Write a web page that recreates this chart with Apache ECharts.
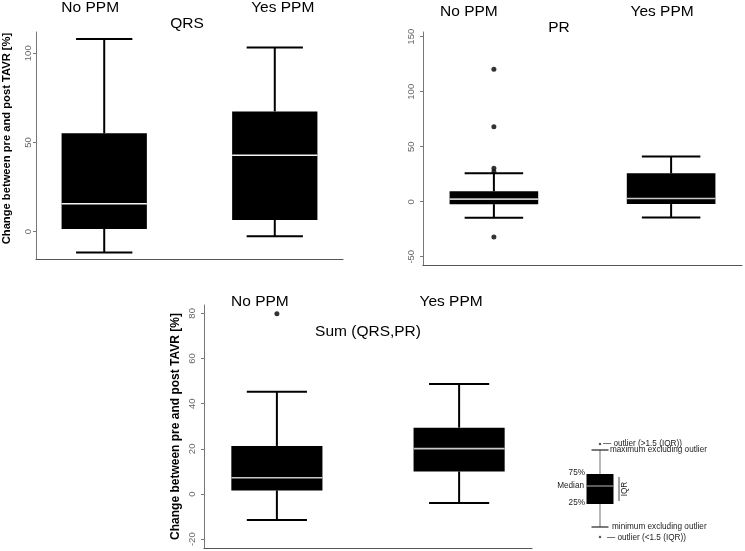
<!DOCTYPE html>
<html>
<head>
<meta charset="utf-8">
<script src="https://cdn.jsdelivr.net/npm/echarts@6/dist/echarts.min.js"></script>
<style>
html,body{margin:0;padding:0;background:#fff;}
#chart{width:745px;height:551px;}
</style>
</head>
<body>
<div id="chart"></div>
<script>
// ---- data ----
const groups = ['No PPM', 'Yes PPM'];
const groupPos = [1, 2];
// [min, Q1, median, Q3, max] (whiskers exclude outliers)
const qrsNo  = [-11.7, 1.5, 15.7, 55.1, 108.0];
const qrsYes = [-2.5, 6.6, 42.8, 67.4, 103.2];
const prNo   = [-14.5, -2.2, 2.4, 9.5, 25.8];
const prYes  = [-14.4, -2.1, 3.0, 25.8, 41.1];
const prNoOutliers = [120.4, 68.2, 30.4, 27.3, -32.1];
const sumNo  = [-11.5, 1.6, 7.2, 21.3, 45.3];
const sumYes = [-4.0, 10.0, 20.1, 29.4, 48.7];
const sumNoOutliers = [79.8];
const qrsTicks = [0, 50, 100];
const prTicks  = [-50, 0, 50, 100, 150];
const sumTicks = [-20, 0, 20, 40, 60, 80];
const panelTitles = ['QRS', 'PR', 'Sum (QRS,PR)'];
const yName = 'Change between pre and post TAVR [%]';
// key (explanatory box)
const keyStats = [13, 36, 54, 66, 90];
const keyOutliers = [96, 3];
const keyTexts = ['— outlier (>1.5 (IQR))', 'maximum excluding outlier', '75%', 'Median', '25%', 'IQR', 'minimum excluding outlier', '— outlier (<1.5 (IQR))'];

const FONT = 'Liberation Sans, Arial, sans-serif';
const chart = echarts.init(document.getElementById('chart'));

function boxRenderer(boxW, capW, c) {
  return function (params, api) {
    const x = api.value(0);
    const v = [1, 2, 3, 4, 5].map(i => api.value(i));
    const p = v.map(y => api.coord([x, y]));
    const cx = p[0][0];
    const bl = api.coord([x - boxW / 2, v[3]]);
    const br = api.coord([x + boxW / 2, v[1]]);
    const cl = api.coord([x - capW / 2, v[0]])[0];
    const cr = api.coord([x + capW / 2, v[0]])[0];
    const ln = (x1, y1, x2, y2, stroke, w) => ({type: 'line', shape: {x1, y1, x2, y2}, style: {stroke, lineWidth: w}});
    return {type: 'group', children: [
      ln(cx, p[0][1], cx, p[1][1], c.whisker, c.lw),
      ln(cx, p[3][1], cx, p[4][1], c.whisker, c.lw),
      ln(cl, p[0][1], cr, p[0][1], c.cap, c.lw),
      ln(cl, p[4][1], cr, p[4][1], c.cap, c.lw),
      {type: 'rect', shape: {x: bl[0], y: bl[1], width: br[0] - bl[0], height: br[1] - bl[1]}, style: {fill: c.box}},
      ln(bl[0], p[2][1], br[0], p[2][1], c.median, c.mw)
    ]};
  };
}

const panels = [
  {grid: {left: 36, top: 32, width: 307, height: 227}, ymin: -15.3, ymax: 111.9, ticks: qrsTicks,
   boxes: [qrsNo, qrsYes], outliers: [], median: '#f4f4f4', labelMargin: 3, nameGap: 24, nameSize: 11.2, namePad: [0, 0, 0, 14],
   shift: [-14, 8], catOffset: 0, catMargin: 15, title: [187, 23.5]},
  {grid: {left: 423, top: 32, width: 319, height: 233}, ymin: -57.5, ymax: 154.3, ticks: prTicks,
   boxes: [prNo, prYes], outliers: prNoOutliers, median: '#c8c8c8', labelMargin: 7, nameGap: null,
   shift: [-25, -9], catOffset: 0, catMargin: 11, title: [559, 28]},
  {grid: {left: 204, top: 305, width: 328, height: 243}, ymin: -23.9, ymax: 83.7, ticks: sumTicks,
   boxes: [sumNo, sumYes], outliers: sumNoOutliers, median: '#c8c8c8', labelMargin: 7, nameGap: 22, nameSize: 12, namePad: [0, 0, 0, 0],
   shift: [-17, -8], catOffset: -10, catMargin: 4.5, title: [368, 331.5]}
];

const grids = [], xAxes = [], yAxes = [], series = [], titles = [];
panels.forEach((pn, i) => {
  grids.push(pn.grid);
  // bottom frame line
  xAxes.push({gridIndex: i, type: 'value', min: 0.6, max: 2.4, position: 'bottom',
    axisLine: {show: true, onZero: false, lineStyle: {color: '#555', width: 1.2}},
    axisTick: {show: false}, axisLabel: {show: false}, splitLine: {show: false}});
  // top category labels
  const rich = {};
  groups.forEach((g, k) => {
    const s = pn.shift[k];
    rich['g' + k] = {fontFamily: FONT, fontSize: 15.5, color: '#000', lineHeight: 18,
      padding: s < 0 ? [0, -2 * s, 0, 0] : [0, 0, 0, 2 * s]};
  });
  xAxes.push({gridIndex: i, type: 'value', min: 0.6, max: 2.4, position: 'top', offset: pn.catOffset,
    axisLine: {show: false}, axisTick: {show: false}, splitLine: {show: false},
    axisLabel: {show: true, customValues: groupPos, margin: pn.catMargin,
      formatter: v => { const k = groupPos.indexOf(v); return k < 0 ? '' : '{g' + k + '|' + groups[k] + '}'; },
      rich: rich}});
  const ya = {gridIndex: i, type: 'value', min: pn.ymin, max: pn.ymax,
    axisLine: {show: true, onZero: false, lineStyle: {color: '#777', width: 1}},
    axisTick: {show: true, customValues: pn.ticks, length: 3, lineStyle: {color: '#777'}},
    axisLabel: {show: true, customValues: pn.ticks, rotate: 90, margin: pn.labelMargin,
      fontFamily: FONT, fontSize: 9.5, color: '#666'},
    splitLine: {show: false}};
  if (pn.nameGap !== null) {
    ya.name = yName;
    ya.nameLocation = 'middle';
    ya.nameGap = pn.nameGap;
    ya.nameTextStyle = {fontFamily: FONT, fontSize: pn.nameSize, fontWeight: 'bold', color: '#000', padding: pn.namePad};
  }
  yAxes.push(ya);
  series.push({type: 'custom', xAxisIndex: 2 * i, yAxisIndex: i,
    renderItem: boxRenderer(0.5, 0.33, {whisker: '#000', cap: '#000', box: '#000', median: pn.median, lw: 2, mw: 1.6}),
    encode: {x: 0, y: [1, 2, 3, 4, 5]},
    data: pn.boxes.map((b, k) => [groupPos[k]].concat(b)), silent: true});
  if (pn.outliers.length) {
    series.push({type: 'scatter', xAxisIndex: 2 * i, yAxisIndex: i, symbol: 'circle', symbolSize: 5,
      itemStyle: {color: '#000'}, data: pn.outliers.map(v => [groupPos[0], v]), silent: true});
  }
  titles.push({text: panelTitles[i], left: pn.title[0], top: pn.title[1], textAlign: 'center', textVerticalAlign: 'middle', padding: 0,
    textStyle: {fontFamily: FONT, fontSize: 15.5, fontWeight: 'normal', color: '#000'}});
});

// key grid
grids.push({left: 580, top: 440, width: 40, height: 100});
xAxes.push({gridIndex: 3, type: 'value', min: 0, max: 2, show: false});
yAxes.push({gridIndex: 3, type: 'value', min: 0, max: 100, show: false});
series.push({type: 'custom', xAxisIndex: 6, yAxisIndex: 3,
  renderItem: boxRenderer(1.35, 0.85, {whisker: '#888', cap: '#222', box: '#000', median: '#999', lw: 1.2, mw: 1.2}),
  encode: {x: 0, y: [1, 2, 3, 4, 5]}, data: [[1].concat(keyStats)], silent: true});
series.push({type: 'scatter', xAxisIndex: 6, yAxisIndex: 3, symbol: 'circle', symbolSize: 2.5,
  itemStyle: {color: '#333'}, data: keyOutliers.map(v => [1, v]), silent: true});

const kf = '8.2px ' + FONT;
function kt(text, x, y, align, rot) {
  return {type: 'text', x: x, y: y, rotation: rot || 0,
    style: {text: text, font: kf, fill: '#222', align: align, verticalAlign: 'middle'}};
}
const graphic = [
  kt(keyTexts[0], 603, 444, 'left'),
  kt(keyTexts[1], 610, 450, 'left'),
  kt(keyTexts[2], 585, 473, 'right'),
  kt(keyTexts[3], 584, 486, 'right'),
  kt(keyTexts[4], 585, 503, 'right'),
  {type: 'line', shape: {x1: 619, y1: 477, x2: 619, y2: 501}, style: {stroke: '#444', lineWidth: 1}},
  kt(keyTexts[5], 625, 489, 'center', Math.PI / 2),
  kt(keyTexts[6], 612, 527, 'left'),
  kt(keyTexts[7], 607, 538, 'left')
];

chart.setOption({
  animation: false,
  backgroundColor: '#fff',
  title: titles,
  grid: grids,
  xAxis: xAxes,
  yAxis: yAxes,
  series: series,
  graphic: graphic
});
</script>
</body>
</html>
